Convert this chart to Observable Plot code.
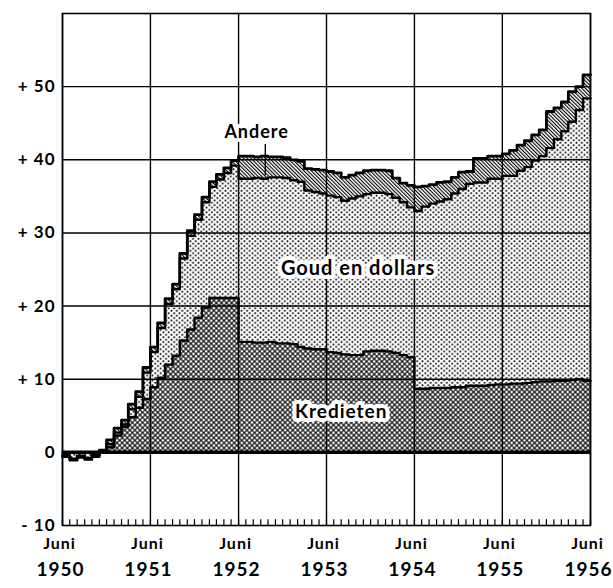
<!DOCTYPE html>
<html>
<head>
<meta charset="utf-8">
<script src="https://cdn.jsdelivr.net/npm/d3@7"></script>
<script src="https://cdn.jsdelivr.net/npm/@observablehq/plot@0.6"></script>
<style>
  body { margin: 0; background: #fff; }
  svg text { letter-spacing: 1px; }
</style>
</head>
<body>
<div id="chart"></div>
<script>
// Monthly values, June 1950 .. May 1956 (72 months)
const kredieten = [
  0, 0, 0, 0, 0, 0,
  0.7, 2.3, 3.5, 4.8, 6.1, 7.3, 8.9, 10.2, 12.0, 13.2, 15.3, 16.8, 18.4, 19.8, 21.1, 21.1, 21.1, 21.1,
  15.1, 15.1, 15.0, 15.0, 15.1, 14.9, 14.9, 14.8, 14.4, 14.2, 14.1, 14.1, 13.7, 13.6, 13.4, 13.3, 13.3, 13.8, 13.9, 13.9, 13.8, 13.6, 13.3, 13.0,
  8.7, 8.7, 8.8, 8.8, 8.8, 8.9, 8.9, 9.1, 9.1, 9.1, 9.2, 9.3, 9.3, 9.4, 9.4, 9.5, 9.6, 9.7, 9.7, 9.8, 9.8, 9.9, 10.0, 9.8
];
const goudEnDollars = [
  -0.6, -1.1, -0.7, -1.0, -0.6, 0.1,
  0.4, 0.4, 0.3, 1.1, 1.5, 3.6, 4.8, 6.8, 8.3, 9.1, 11.2, 12.8, 13.4, 14.4, 15.2, 16.2, 17.1, 18.1,
  22.3, 22.3, 22.5, 22.4, 22.5, 22.7, 22.6, 22.4, 22.6, 21.6, 21.5, 21.3, 21.4, 21.3, 21.0, 21.4, 21.7, 21.5, 21.6, 21.6, 21.5, 21.2, 20.9, 20.5,
  24.3, 24.9, 25.2, 25.5, 25.8, 26.5, 27.1, 27.6, 27.8, 27.8, 28.2, 28.1, 28.5, 28.4, 29.1, 29.5, 30.3, 30.8, 31.9, 33.0, 34.1, 35.3, 36.8, 38.6
];
const andere = [
  0.2, 0.2, 0.2, 0.2, 0.2, 0.2,
  0.6, 0.6, 0.6, 0.7, 0.7, 0.7, 0.7, 0.7, 0.7, 0.7, 0.7, 0.7, 0.7, 0.7, 0.7, 0.7, 0.7, 0.7,
  3.1, 3.1, 2.9, 3.1, 2.8, 2.8, 2.8, 2.8, 2.8, 3.0, 3.1, 3.2, 3.3, 3.3, 3.2, 3.2, 3.2, 3.2, 3.1, 3.1, 3.2, 2.7, 2.6, 3.0,
  3.3, 2.8, 2.6, 2.6, 2.4, 2.2, 2.3, 1.7, 3.3, 3.3, 3.1, 3.1, 3.0, 3.5, 3.5, 3.6, 3.5, 3.6, 5.0, 4.3, 4.0, 4.1, 3.2, 3.2
];
const years = [1950, 1951, 1952, 1953, 1954, 1955, 1956];
const monthLabel = "Juni";
const yTicks = [-10, 0, 10, 20, 30, 40, 50];
const yGrid = [10, 20, 30, 40, 50];
const labels = [
  {text: "Andere", date: new Date(1952, 7, 15), value: 43.8, size: 18},
  {text: "Goud en dollars", date: new Date(1953, 9, 10), value: 25.1, size: 20},
  {text: "Kredieten", date: new Date(1953, 7, 1), value: 5.5, size: 19}
];

// Build table (step-after; the last month is repeated to close the final step)
const n = kredieten.length;
const months = d3.range(n + 1).map(i => new Date(1950, 5 + i, 1));
const rows = months.map((date, i) => {
  const j = Math.min(i, n - 1);
  const k = kredieten[j];
  const g = k + goudEnDollars[j];
  const t = g + andere[j];
  return {date, k, g, t};
});
const junes = years.map(y => new Date(y, 5, 1));
const fmtY = d => d > 0 ? "+ " + d : d < 0 ? "- " + (-d) : "0";

const chart = Plot.plot({
  width: 613,
  height: 588,
  marginLeft: 62,
  marginRight: 23,
  marginTop: 13,
  marginBottom: 63,
  x: {type: "time", domain: [junes[0], junes[junes.length - 1]], axis: null},
  y: {domain: [-10, 60], axis: null},
  style: {fontFamily: "Lato, 'DejaVu Sans', sans-serif", fontWeight: "bold", background: "white", color: "black"},
  marks: [
    Plot.areaY(rows, {x: "date", y1: 0, y2: "k", curve: "step-after", fill: "url(#cross)"}),
    Plot.areaY(rows, {x: "date", y1: "k", y2: "g", curve: "step-after", fill: "url(#dots)"}),
    Plot.areaY(rows, {x: "date", y1: "g", y2: "t", curve: "step-after", fill: "url(#hatch)"}),
    Plot.ruleY(yGrid, {stroke: "black", strokeWidth: 1.4}),
    Plot.ruleX(junes, {stroke: "black", strokeWidth: 1.4}),
    Plot.ruleX(months, {y1: -10, y2: -9.2, stroke: "black", strokeWidth: 1.2}),
    Plot.lineY(rows, {x: "date", y: "k", curve: "step-after", stroke: "black", strokeWidth: 2.4}),
    Plot.lineY(rows, {x: "date", y: "g", curve: "step-after", stroke: "black", strokeWidth: 2.4}),
    Plot.lineY(rows, {x: "date", y: "t", curve: "step-after", stroke: "black", strokeWidth: 2.8}),
    Plot.ruleY([0], {stroke: "black", strokeWidth: 3.5}),
    Plot.frame({stroke: "black", strokeWidth: 1.6}),
    // pointer from "Andere" label
    Plot.ruleX([new Date(1952, 8, 20)], {y1: 37.8, y2: 42.1, stroke: "black", strokeWidth: 1.4}),
    Plot.text(labels, {x: "date", y: "value", text: "text", fontSize: "size", fill: "black",
      stroke: "white", strokeWidth: 8, strokeLinejoin: "round", paintOrder: "stroke", fontWeight: "bold"}),
    Plot.axisY(yTicks, {tickSize: 0, tickPadding: 7, tickFormat: fmtY, fontSize: 17, fontWeight: "bold"}),
    Plot.text(junes, {x: d => d, frameAnchor: "bottom", dy: 23, dx: -3, text: () => monthLabel, fontSize: 16, fontWeight: "bold"}),
    Plot.text(junes, {x: d => d, frameAnchor: "bottom", dy: 50, dx: -2, text: d => String(d.getFullYear()), fontSize: 19, fontWeight: "bold"})
  ]
});

const defs = document.createElementNS("http://www.w3.org/2000/svg", "defs");
defs.innerHTML = `
  <pattern id="cross" patternUnits="userSpaceOnUse" width="3.6" height="3.6" patternTransform="rotate(45)">
    <rect width="3.6" height="3.6" fill="black"/>
    <rect x="0.55" y="0.55" width="2.5" height="2.5" fill="white"/>
  </pattern>
  <pattern id="dots" patternUnits="userSpaceOnUse" width="5.4" height="4.8">
    <rect width="5.4" height="4.8" fill="white"/>
    <circle cx="1.35" cy="1.2" r="1" fill="black"/>
    <circle cx="4.05" cy="3.6" r="1" fill="black"/>
  </pattern>
  <pattern id="hatch" patternUnits="userSpaceOnUse" width="2.6" height="2.6" patternTransform="rotate(-45)">
    <rect width="2.6" height="2.6" fill="white"/>
    <rect x="0" y="0" width="1.1" height="2.6" fill="black"/>
  </pattern>`;
chart.insertBefore(defs, chart.firstChild);
document.getElementById("chart").appendChild(chart);
</script>
</body>
</html>
